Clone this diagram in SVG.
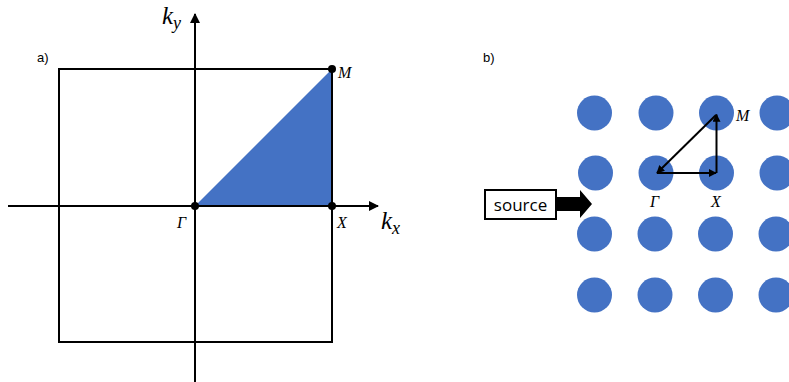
<svg xmlns="http://www.w3.org/2000/svg" width="789" height="382" viewBox="0 0 789 382">
<defs>
<style>
.ln{stroke:#000;stroke-width:2;fill:none}
.ax{stroke:#000;stroke-width:2;fill:none}
.lbl{font-family:"Liberation Serif","DejaVu Serif",serif;font-style:italic;font-size:16px;fill:#000}
.big{font-family:"Liberation Serif","DejaVu Serif",serif;font-style:italic;font-size:25px;fill:#000}
.sub{font-family:"Liberation Serif","DejaVu Serif",serif;font-style:italic;font-size:18px;fill:#000}
.pl{font-family:"Liberation Sans","Open Sans",sans-serif;font-size:13px;fill:#000}
.dot{fill:#000}
.atom{fill:#4472C4}
</style>
<marker id="ah" viewBox="0 0 10 10" refX="9" refY="5" markerWidth="5" markerHeight="5" orient="auto" markerUnits="strokeWidth">
<path d="M0,0 L10,5 L0,10 z" fill="#000"/>
</marker>
<marker id="ah2" viewBox="0 0 10 10" refX="9" refY="5" markerWidth="4" markerHeight="4" orient="auto" markerUnits="strokeWidth">
<path d="M0,0 L10,5 L0,10 z" fill="#000"/>
</marker>
</defs>
<rect width="789" height="382" fill="#fff"/>
<text class="pl" x="37" y="62">a)</text>
<g id="bz">
<polygon points="195,206 332,69 332,206" fill="#4472C4"/>
<rect x="59" y="69" width="273" height="273" class="ln"/>
</g>
<text class="pl" x="483" y="62">b)</text>
<g id="lattice">
<circle class="atom" cx="594.5" cy="113" r="17.5"/><circle class="atom" cx="656" cy="113" r="17.5"/><circle class="atom" cx="716.5" cy="113" r="17.5"/><circle class="atom" cx="777" cy="113" r="17.5"/>
<circle class="atom" cx="595.5" cy="173" r="17.5"/><circle class="atom" cx="656" cy="173" r="17.5"/><circle class="atom" cx="716.5" cy="173" r="17.5"/><circle class="atom" cx="777" cy="173" r="17.5"/>
<circle class="atom" cx="594.5" cy="234" r="17.5"/><circle class="atom" cx="655" cy="234" r="17.5"/><circle class="atom" cx="715.5" cy="234" r="17.5"/><circle class="atom" cx="776" cy="234" r="17.5"/>
<circle class="atom" cx="594.5" cy="295" r="17.5"/><circle class="atom" cx="655" cy="295" r="17.5"/><circle class="atom" cx="715.5" cy="295" r="17.5"/><circle class="atom" cx="776" cy="295" r="17.5"/>
</g>
<g id="connectors">
<line x1="8" y1="206" x2="378" y2="206" class="ax" marker-end="url(#ah)"/>
<line x1="195" y1="382" x2="195" y2="14" class="ax" marker-end="url(#ah)"/>
<line x1="657" y1="173" x2="716" y2="173" class="ln" marker-end="url(#ah2)"/>
<line x1="716.5" y1="173" x2="716.5" y2="114.5" class="ln" marker-end="url(#ah2)"/>
<line x1="716" y1="115" x2="657" y2="173" class="ln" marker-end="url(#ah2)"/>
</g>
<g id="gamma"><circle cx="195" cy="206" r="4" class="dot"/><text class="lbl" x="177" y="228">Γ</text></g>
<g id="X"><circle cx="332" cy="206" r="4" class="dot"/><text class="lbl" x="337" y="228">X</text></g>
<g id="M"><circle cx="332" cy="69" r="4" class="dot"/><text class="lbl" x="338" y="78">M</text></g>
<g id="kx"><text class="big" x="381" y="229">k<tspan class="sub" dy="5">x</tspan></text></g>
<g id="ky"><text class="big" x="162" y="24">k<tspan class="sub" dy="5">y</tspan></text></g>
<g id="labels-b">
<text class="lbl" x="736" y="121">M</text>
<text class="lbl" x="650" y="207">Γ</text>
<text class="lbl" x="711" y="207">X</text>
</g>
<g id="source">
<rect x="485" y="190" width="71" height="29" fill="#fff" stroke="#000" stroke-width="2"/>
<text x="520.5" y="211" text-anchor="middle" font-family="'Open Sans','Liberation Sans',sans-serif" font-size="17" fill="#000">source</text>
<polygon points="557,197 580,197 580,190 592,204 580,218 580,211 557,211" fill="#000"/>
</g>
</svg>
